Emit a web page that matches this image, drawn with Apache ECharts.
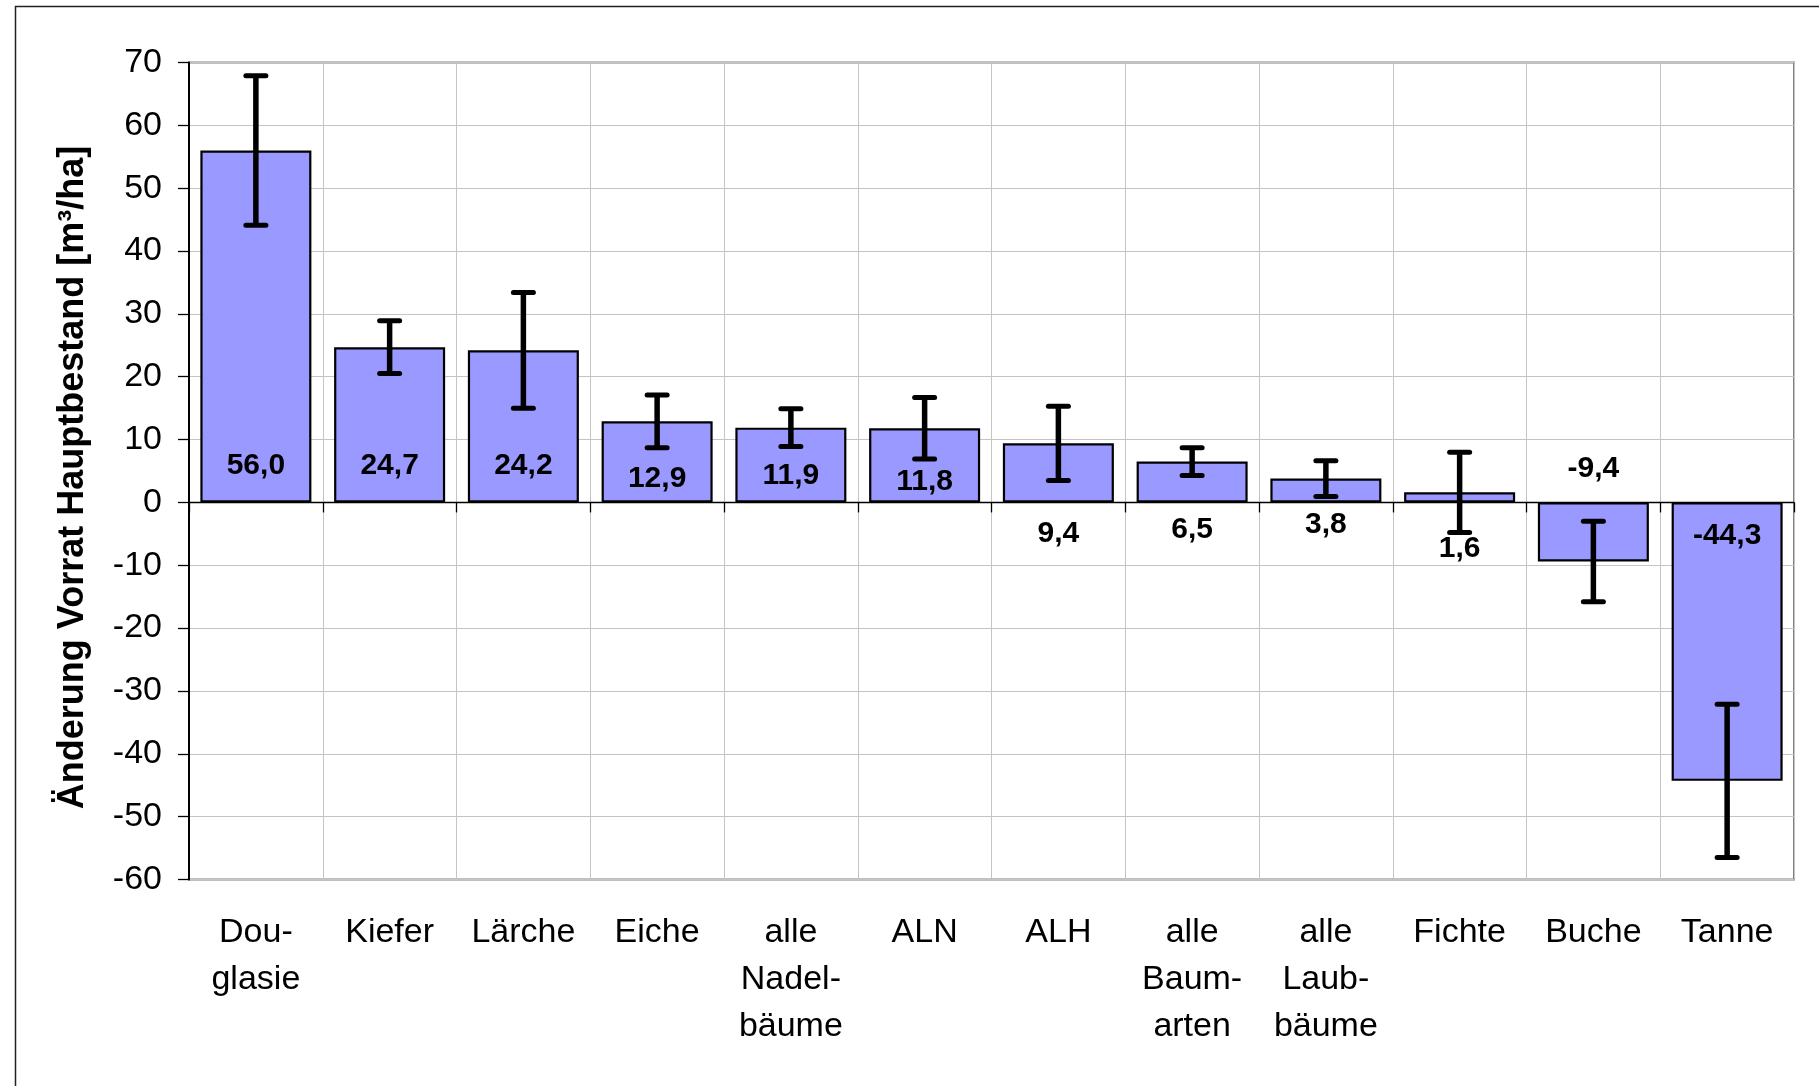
<!DOCTYPE html>
<html>
<head>
<meta charset="utf-8">
<title>Änderung Vorrat Hauptbestand</title>
<script src="https://cdn.jsdelivr.net/npm/echarts@6/dist/echarts.min.js"></script>
<style>
  html, body { margin: 0; padding: 0; background: #fff; }
  #chart { width: 1819px; height: 1086px; }
</style>
</head>
<body>
<div id="chart"></div>
<script>
// Baumarten (Kategorien)
const categories = [
  "Dou-\nglasie", "Kiefer", "Lärche", "Eiche", "alle\nNadel-\nbäume", "ALN",
  "ALH", "alle\nBaum-\narten", "alle\nLaub-\nbäume", "Fichte", "Buche", "Tanne"
];
// Änderung Vorrat [m³/ha]
const values = [56.0, 24.7, 24.2, 12.9, 11.9, 11.8, 9.4, 6.5, 3.8, 1.6, -9.4, -44.3];
// Fehlerbalken (+/-)
const errors = [11.9, 4.2, 9.2, 4.2, 3.0, 4.9, 5.9, 2.2, 2.85, 6.4, 6.4, 12.2];
// y-Achse
const yMin = -60;
const yMax = 70;
const yStep = 10;

const FONT = '"Liberation Sans", Arial, Helvetica, sans-serif';

// where each value label sits (axis units), as in the original
const labelAt = [5.8, 5.8, 5.8, 3.7, 4.2, 3.3, -5.05, -4.4, -3.6, -7.4, 5.3, -5.3];

const fmt = (v) => v.toFixed(1).replace(".", ",");

const errData = values.map((v, i) => [i, v - errors[i], v + errors[i], labelAt[i], v]);

const chart = echarts.init(document.getElementById("chart"));

const option = {
  backgroundColor: "#fff",
  animation: false,
  textStyle: { fontFamily: FONT },
  graphic: [
    {
      type: "rect",
      left: 13,
      top: 4,
      shape: { width: 1900, height: 1200 },
      style: { fill: "none", stroke: "#222", lineWidth: 1.5 },
      silent: true,
    },
  ],
  grid: {
    left: 189,
    right: 25,
    top: 62.5,
    bottom: 206.5,
    show: true,
    borderColor: "#808080",
    borderWidth: 2,
  },
  xAxis: [
    {
      type: "category",
      data: categories,
      position: "bottom",
      axisLine: { show: false, onZero: false },
      axisTick: { show: false },
      axisLabel: {
        interval: 0,
        color: "#000",
        fontFamily: FONT,
        fontSize: 34,
        lineHeight: 47,
        margin: 29.5,
      },
      splitLine: { show: true, lineStyle: { color: "#c4c4c4", width: 1 } },
    },
    {
      // Nulllinie mit Strichen
      type: "category",
      data: categories,
      position: "top",
      axisLine: { show: true, onZero: true, lineStyle: { color: "#000", width: 1.3 } },
      axisTick: { show: true, inside: true, length: 10, lineStyle: { color: "#000", width: 1.3 } },
      axisLabel: { show: false },
      splitLine: { show: false },
    },
  ],
  yAxis: {
    type: "value",
    min: yMin,
    max: yMax,
    interval: yStep,
    name: "Änderung Vorrat Hauptbestand [m³/ha]",
    nameLocation: "middle",
    nameGap: 98,
    nameTextStyle: {
      color: "#000",
      fontFamily: FONT,
      fontSize: 36,
      fontWeight: "bold",
      padding: [0, 13, 0, 0],
    },
    axisLine: { show: true, lineStyle: { color: "#000", width: 2 } },
    axisTick: { show: true, length: 11, lineStyle: { color: "#000", width: 1.3 } },
    axisLabel: { color: "#000", fontFamily: FONT, fontSize: 34, margin: 27 },
    splitLine: { show: true, lineStyle: { color: "#c4c4c4", width: 1 } },
  },
  series: [
    {
      type: "bar",
      xAxisIndex: 0,
      data: values,
      barWidth: "83%",
      itemStyle: { color: "#9999ff", borderColor: "#000", borderWidth: 2.2 },
      z: 2,
    },
    {
      // Fehlerbalken + Werte
      type: "custom",
      xAxisIndex: 0,
      data: errData,
      encode: { x: 0, y: [1, 2] },
      z: 5,
      renderItem: (params, api) => {
        const i = api.value(0);
        const lo = api.coord([i, api.value(1)]);
        const hi = api.coord([i, api.value(2)]);
        const lab = api.coord([i, api.value(3)]);
        const half = 10;
        const stem = { stroke: "#000", lineWidth: 5.5 };
        const cap = { stroke: "#000", lineWidth: 5, lineCap: "round" };
        return {
          type: "group",
          children: [
            { type: "line", shape: { x1: hi[0], y1: hi[1], x2: lo[0], y2: lo[1] }, style: stem },
            { type: "line", shape: { x1: hi[0] - half, y1: hi[1], x2: hi[0] + half, y2: hi[1] }, style: cap },
            { type: "line", shape: { x1: lo[0] - half, y1: lo[1], x2: lo[0] + half, y2: lo[1] }, style: cap },
            {
              type: "text",
              x: lab[0],
              y: lab[1],
              style: {
                text: fmt(api.value(4)),
                fill: "#000",
                font: "bold 30px " + FONT,
                align: "center",
                verticalAlign: "middle",
              },
            },
          ],
        };
      },
    },
  ],
};

chart.setOption(option);
</script>
</body>
</html>
